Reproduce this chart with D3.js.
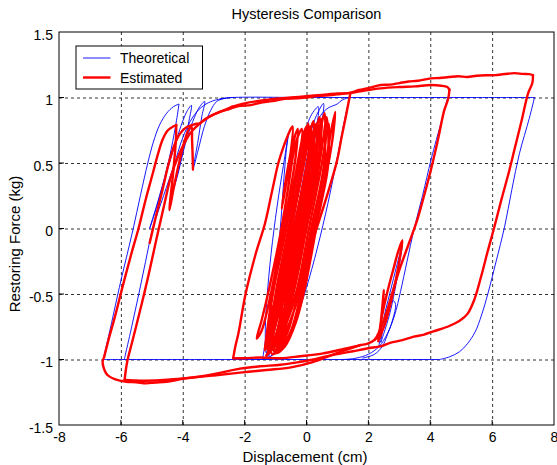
<!DOCTYPE html>
<html>
<head>
<meta charset="utf-8">
<script src="https://cdn.jsdelivr.net/npm/d3@7"></script>
<style>
  body { margin: 0; background: #fff; }
  text { font-family: Arial, "Liberation Sans", sans-serif; fill: #000; }
</style>
</head>
<body>
<div id="chart"></div>
<script>
// tick values
const xTicks = [-8, -6, -4, -2, 0, 2, 4, 6, 8];
const yTicks = [-1.5, -1, -0.5, 0, 0.5, 1, 1.5];

// ---- Theoretical (blue) branches, [displacement cm, force kg] ----
const thTop = [[-2.8, 0.99], [-2.4, 1], [0, 1], [3, 1], [5, 1], [7.37, 1]];
const thBottom = [[4.3, -1], [2, -1], [0, -1], [-3, -1], [-6.57, -1]];
const thOuterRight = [[7.37, 1], [7.2, 0.84], [6.88, 0.57], [6.64, 0.3], [6.4, 0.01], [6.13, -0.25],
  [5.86, -0.5], [5.66, -0.66], [5.45, -0.79], [5.2, -0.88], [4.95, -0.94], [4.62, -0.98], [4.3, -1]];
const thOuterLeft = [[-6.57, -1], [-6.3, -0.72], [-6.05, -0.45], [-5.82, -0.22], [-5.6, 0], [-5.37, 0.25],
  [-5.13, 0.5], [-4.95, 0.66], [-4.75, 0.79], [-4.52, 0.88], [-4.3, 0.93], [-4.12, 0.95]];
const thLeftLoops = [[-4.12, 0.95], [-4.22, 0.8], [-4.45, 0.52], [-4.75, 0.25], [-5.07, 0.0], [-4.9, 0.12],
  [-4.68, 0.3], [-4.43, 0.5], [-4.2, 0.68], [-4.0, 0.82], [-3.85, 0.9], [-3.72, 0.94], [-3.8, 0.82],
  [-3.95, 0.64], [-4.15, 0.42], [-4.3, 0.3], [-4.1, 0.48], [-3.85, 0.7], [-3.62, 0.85], [-3.45, 0.93],
  [-3.29, 0.97], [-3.38, 0.86], [-3.52, 0.65], [-3.67, 0.45], [-3.5, 0.6], [-3.3, 0.78], [-3.1, 0.9],
  [-2.9, 0.97], [-2.6, 0.995], [-2.3, 1]];
const thLeftInner = [[-5.89, -1], [-5.65, -0.75], [-5.42, -0.5], [-5.2, -0.25], [-4.97, 0], [-4.62, 0.25],
  [-4.26, 0.5], [-4.05, 0.66], [-3.82, 0.79], [-3.55, 0.89], [-3.25, 0.95], [-2.95, 0.98], [-2.6, 0.995]];
const thMidLoops = [[-1.42, -1], [-1.3, -0.82], [-1.12, -0.55], [-0.95, -0.25], [-0.83, 0.05], [-0.74, 0.35],
  [-0.66, 0.58], [-0.58, 0.73], [-0.7, 0.55], [-0.9, 0.25], [-1.1, -0.1], [-1.25, -0.45], [-1.33, -0.75],
  [-1.3, -0.95], [-1.15, -0.8], [-0.95, -0.5], [-0.7, -0.15], [-0.45, 0.2], [-0.25, 0.5], [-0.05, 0.72],
  [0.1, 0.84], [0.25, 0.9], [0.38, 0.93], [0.28, 0.7], [0.05, 0.35], [-0.25, -0.05], [-0.55, -0.45],
  [-0.85, -0.75], [-1.1, -0.92], [-1.29, -0.98], [-1.05, -0.75], [-0.8, -0.45], [-0.5, -0.05], [-0.2, 0.35],
  [0.05, 0.65], [0.25, 0.82], [0.4, 0.9], [0.55, 0.955], [0.42, 0.7], [0.15, 0.3], [-0.2, -0.15],
  [-0.5, -0.5], [-0.8, -0.8], [-1.0, -0.93], [-1.2, -0.98], [-0.95, -0.7], [-0.65, -0.35], [-0.35, 0.05],
  [-0.05, 0.45], [0.2, 0.72], [0.45, 0.86], [0.7, 0.92], [0.99, 0.95], [1.15, 0.98], [1.36, 1]];
const thMidRight = [[1.4, 1], [1.25, 0.85], [1.0, 0.55], [0.7, 0.2], [0.35, -0.15], [0.0, -0.45],
  [-0.35, -0.7], [-0.7, -0.87], [-1.0, -0.95], [-1.3, -0.99], [-1.6, -1]];
const thRightInner = [[4.56, 1], [4.4, 0.85], [4.2, 0.68], [4.02, 0.52], [3.75, 0.25], [3.47, -0.01],
  [3.25, -0.25], [3.04, -0.48], [2.85, -0.66], [2.62, -0.8], [2.35, -0.9], [2.0, -0.96], [1.6, -0.99], [1.2, -1]];
const thRightSmall = [[2.34, -0.9], [2.42, -0.78], [2.55, -0.63], [2.72, -0.47], [2.9, -0.3], [3.02, -0.19],
  [3.1, -0.12], [3.0, -0.28], [2.85, -0.48], [2.68, -0.66], [2.5, -0.8], [2.4, -0.87], [2.48, -0.76],
  [2.62, -0.64], [2.8, -0.55], [2.88, -0.58], [2.78, -0.7], [2.6, -0.82], [2.45, -0.9], [2.2, -0.96], [1.8, -0.99]];

// ---- Estimated (red) branches ----
const estTopOuter = [[-3.45, 0.8], [-3.2, 0.845], [-3.0, 0.87], [-2.8, 0.89], [-2.5, 0.912], [-2.2, 0.935],
  [-1.8, 0.942], [-1.5, 0.96], [-1.1, 0.972], [-0.7, 0.99], [-0.3, 0.993], [0, 1.0], [0.4, 1.012], [0.8, 1.018],
  [1.1, 1.027], [1.4, 1.035], [1.7, 1.057], [2.0, 1.072], [2.4, 1.095], [2.7, 1.098], [3.0, 1.11], [3.3, 1.122],
  [3.6, 1.128], [4.02, 1.146], [4.3, 1.149], [4.6, 1.156], [4.9, 1.162], [5.2, 1.157], [5.5, 1.166],
  [5.8, 1.17], [6.1, 1.171], [6.4, 1.179], [6.72, 1.186], [7.0, 1.18], [7.2, 1.178], [7.32, 1.17]];
const estOuterRight = [[7.32, 1.17], [7.3, 1.11], [7.16, 1.03], [6.95, 0.82], [6.75, 0.63], [6.56, 0.447],
  [6.3, 0.22], [6.07, 0.01], [5.85, -0.18], [5.64, -0.37], [5.42, -0.546], [5.21, -0.65], [4.95, -0.705],
  [4.56, -0.75], [4.1, -0.785], [3.8, -0.81], [3.47, -0.826], [3.1, -0.852], [2.7, -0.873], [2.39, -0.9],
  [2.0, -0.914], [1.5, -0.937], [1.09, -0.955], [0.6, -0.978], [0.23, -1.0], [-0.3, -1.022], [-0.85, -1.04],
  [-1.5, -1.052], [-2.15, -1.07], [-2.8, -1.102], [-3.44, -1.13], [-4.0, -1.148], [-4.53, -1.17],
  [-4.9, -1.176], [-5.18, -1.182], [-5.5, -1.174], [-5.83, -1.17], [-6.2, -1.15], [-6.4, -1.125],
  [-6.48, -1.105], [-6.56, -1.06], [-6.59, -1.017], [-6.54, -0.98]];
const estOuterLeft = [[-6.54, -0.98], [-6.4, -0.85], [-6.2, -0.68], [-5.94, -0.44], [-5.67, -0.2],
  [-5.43, 0.0], [-5.2, 0.22], [-4.97, 0.42], [-4.8, 0.57], [-4.65, 0.68], [-4.48, 0.75], [-4.3, 0.78], [-4.21, 0.79]];
const estLeftZig = [[-4.21, 0.79], [-4.22, 0.68], [-4.3, 0.45], [-4.43, 0.14], [-4.3, 0.3], [-4.12, 0.5],
  [-3.95, 0.66], [-3.82, 0.75], [-3.72, 0.78], [-3.7, 0.68], [-3.68, 0.55], [-3.67, 0.45]];
const estLeftRise = [[-5.07, -0.11], [-4.88, 0.08], [-4.65, 0.3], [-4.45, 0.5], [-4.28, 0.63], [-4.1, 0.72],
  [-3.9, 0.77], [-3.7, 0.79], [-3.55, 0.8], [-3.45, 0.8]];
const estBottomInner = [[1.74, -0.89], [1.0, -0.95], [0.2, -1.02], [-0.5, -1.06], [-1.3, -1.08],
  [-2.15, -1.1], [-3.0, -1.122], [-3.8, -1.14], [-4.5, -1.155], [-5.2, -1.162], [-5.6, -1.16], [-5.88, -1.157]];
const estInnerLeft = [[-5.88, -1.157], [-5.84, -1.08], [-5.78, -1.0], [-5.65, -0.88], [-5.51, -0.75],
  [-5.3, -0.55], [-5.1, -0.35], [-4.85, -0.08], [-4.6, 0.18], [-4.38, 0.4], [-4.15, 0.55], [-3.95, 0.65],
  [-3.75, 0.73], [-3.55, 0.78], [-3.3, 0.83], [-3.0, 0.87], [-2.7, 0.9], [-2.4, 0.93]];
const estTopInner = [[-2.4, 0.93], [-2.0, 0.955], [-1.5, 0.975], [-1.0, 0.99], [-0.5, 1.0], [0, 1.01],
  [0.5, 1.02], [1.0, 1.03], [1.42, 1.035], [1.8, 1.05], [2.4, 1.07], [3.0, 1.08], [3.5, 1.085],
  [4.02, 1.095], [4.35, 1.09], [4.55, 1.08], [4.62, 1.06]];
const estRightInner = [[4.62, 1.06], [4.58, 0.99], [4.45, 0.9], [4.25, 0.68], [4.02, 0.447], [3.8, 0.25],
  [3.58, 0.065], [3.3, -0.12], [3.04, -0.29], [2.8, -0.47], [2.6, -0.63], [2.4, -0.76], [2.2, -0.85],
  [1.95, -0.88], [1.74, -0.89], [1.2, -0.92], [0.5, -0.955], [-0.2, -0.975], [-0.85, -0.99], [-1.5, -0.985],
  [-2.0, -0.99], [-2.37, -0.99]];
const estMidLeft = [[-2.37, -0.99], [-2.3, -0.9], [-2.2, -0.8], [-1.97, -0.5], [-1.65, -0.2], [-1.34, 0.04],
  [-1.1, 0.3], [-0.91, 0.5], [-0.75, 0.62], [-0.62, 0.7], [-0.53, 0.75]];
const estMidRight = [[1.42, 1.035], [1.35, 0.95], [1.25, 0.83], [1.12, 0.68], [0.99, 0.52], [0.7, 0.28],
  [0.34, 0.01], [0.0, -0.24], [-0.31, -0.495], [-0.7, -0.75], [-1.0, -0.88], [-1.18, -0.94], [-1.3, -0.97]];
const estMidBand = [[-0.53, 0.75], [-0.45, 0.78], [-0.5, 0.6], [-0.65, 0.4], [-0.8, 0.15], [-0.65, 0.35],
  [-0.5, 0.55], [-0.38, 0.7], [-0.28, 0.76], [-0.35, 0.55], [-0.55, 0.25], [-0.9, -0.2], [-1.2, -0.55],
  [-1.45, -0.78], [-1.61, -0.84], [-1.45, -0.7], [-1.2, -0.45], [-0.85, -0.05], [-0.6, 0.3], [-0.4, 0.6],
  [-0.25, 0.72], [-0.15, 0.76], [-0.25, 0.5], [-0.65, 0], [-1.05, -0.45], [-1.25, -0.75], [-1.35, -0.93],
  [-1.1, -0.5], [-0.65, 0], [-0.22, 0.5], [-0.05, 0.7], [0.05, 0.8], [0.07, 0.5], [-0.35, 0], [-0.78, -0.5],
  [-0.98, -0.72], [-1.15, -0.85], [-1.3, -0.92], [-1.2, -0.75], [-0.93, -0.5], [-0.5, 0], [-0.08, 0.5],
  [0.1, 0.72], [0.22, 0.82], [0.22, 0.5], [-0.2, 0], [-0.62, -0.5], [-0.85, -0.75], [-1.0, -0.86],
  [-1.18, -0.93], [-1.05, -0.75], [-0.73, -0.5], [-0.3, 0], [0.12, 0.5], [0.3, 0.74], [0.42, 0.85],
  [0.42, 0.5], [0.0, 0], [-0.43, -0.5], [-0.68, -0.75], [-0.88, -0.88], [-1.05, -0.94], [-0.9, -0.75],
  [-0.58, -0.5], [-0.15, 0], [0.27, 0.5], [0.45, 0.75], [0.58, 0.88], [0.57, 0.5], [0.15, 0], [-0.28, -0.5],
  [-0.55, -0.75], [-0.78, -0.88], [-0.98, -0.94], [-0.8, -0.75], [-0.43, -0.5], [0.0, 0], [0.42, 0.5],
  [0.55, 0.7], [0.65, 0.85], [0.72, 0.55], [0.65, 0.4], [0.3, 0], [-0.13, -0.5], [-0.42, -0.75],
  [-0.7, -0.88], [-0.92, -0.94], [-0.6, -0.75], [-0.225, -0.5], [0.2, 0], [0.62, 0.5], [0.8, 0.75],
  [0.93, 0.89], [0.85, 0.7], [0.75, 0.55], [0.35, 0.05], [-0.05, -0.45], [-0.35, -0.72], [-0.7, -0.9],
  [-1.0, -0.95], [-1.1, -0.75], [-0.83, -0.5], [-0.4, 0], [0.02, 0.5], [0.2, 0.72], [0.32, 0.8],
  [0.32, 0.55], [-0.1, 0], [-0.52, -0.5], [-0.78, -0.75], [-0.95, -0.85], [-1.2, -0.94], [-1.15, -0.7],
  [-1.12, -0.5], [-0.7, 0], [-0.4, 0.35], [-0.25, 0.55], [-0.1, 0.72], [0.0, 0.78], [-0.12, 0.5],
  [-0.55, 0], [-0.98, -0.5], [-1.2, -0.75], [-1.29, -0.9]];
const estMidBand2 = [[-1.25, -0.95], [-1.1, -0.7], [-1.0, -0.5], [-0.58, 0], [-0.16, 0.5], [0.0, 0.7],
  [0.12, 0.78], [0.03, 0.5], [-0.42, 0], [-0.85, -0.5], [-1.08, -0.75], [-1.22, -0.9], [-1.0, -0.72],
  [-0.65, -0.5], [-0.22, 0], [0.2, 0.5], [0.38, 0.72], [0.5, 0.84], [0.37, 0.5], [-0.05, 0], [-0.48, -0.5],
  [-0.72, -0.75], [-0.95, -0.9], [-0.72, -0.72], [-0.35, -0.5], [0.08, 0], [0.5, 0.5], [0.62, 0.68],
  [0.72, 0.8], [0.67, 0.5], [0.25, 0], [-0.18, -0.5], [-0.5, -0.78], [-0.85, -0.92], [-1.1, -0.96],
  [-1.18, -0.82], [-0.92, -0.5], [-0.5, 0], [-0.08, 0.5], [0.05, 0.68], [0.15, 0.76], [0.15, 0.5],
  [-0.28, 0], [-0.7, -0.5], [-0.95, -0.78], [-1.15, -0.92], [-1.05, -0.78], [-0.78, -0.5], [-0.36, 0],
  [0.06, 0.5], [0.24, 0.72], [0.36, 0.8], [0.3, 0.5], [-0.12, 0], [-0.55, -0.5], [-0.8, -0.75],
  [-1.02, -0.9], [-1.28, -0.96]];
const estRightSmall = [[2.2, -0.85], [2.3, -0.83], [2.34, -0.81], [2.4, -0.72], [2.5, -0.6], [2.65, -0.45],
  [2.82, -0.3], [2.97, -0.17], [3.1, -0.09], [3.02, -0.22], [2.88, -0.4], [2.72, -0.57], [2.55, -0.72],
  [2.42, -0.8], [2.36, -0.84], [2.4, -0.72], [2.45, -0.6], [2.5, -0.47], [2.46, -0.6], [2.4, -0.75], [2.32, -0.86]];

const theoretical = [thTop, thBottom, thOuterRight, thOuterLeft, thLeftLoops, thLeftInner,
  thMidLoops, thMidRight, thRightInner, thRightSmall];
const estimated = [estTopOuter, estOuterRight, estOuterLeft, estLeftZig, estLeftRise, estBottomInner,
  estInnerLeft, estTopInner, estRightInner, estMidLeft, estMidRight, estMidBand, estMidBand2, estRightSmall];

const width = 557;
const height = 465;

const x = d3.scaleLinear().domain([-8, 8]).range([59, 554]);
const y = d3.scaleLinear().domain([-1.5, 1.5]).range([425, 32]);

const svg = d3
  .select('#chart')
  .append('svg')
  .attr('width', width)
  .attr('height', height);

svg.append('rect').attr('width', width).attr('height', height).attr('fill', '#fff');

// grid
const gridX = svg
  .append('g')
  .attr('transform', `translate(0,${y.range()[0]})`)
  .call(d3.axisBottom(x).tickValues(xTicks.slice(1, -1)).tickSize(-(y.range()[0] - y.range()[1])).tickFormat(''));
const gridY = svg
  .append('g')
  .attr('transform', `translate(${x.range()[0]},0)`)
  .call(d3.axisLeft(y).tickValues(yTicks.slice(1, -1)).tickSize(-(x.range()[1] - x.range()[0])).tickFormat(''));
[gridX, gridY].forEach((g) => {
  g.select('.domain').remove();
  g.selectAll('line').attr('stroke', '#000').attr('stroke-width', 0.8).attr('stroke-dasharray', '3,3');
});

// clip
svg.append('clipPath').attr('id', 'plot-clip')
  .append('rect')
  .attr('x', x.range()[0]).attr('y', y.range()[1])
  .attr('width', x.range()[1] - x.range()[0]).attr('height', y.range()[0] - y.range()[1]);

const line = d3
  .line()
  .x((d) => x(d[0]))
  .y((d) => y(d[1]))
  .curve(d3.curveCatmullRom.alpha(0.5));

const plot = svg.append('g').attr('clip-path', 'url(#plot-clip)');

plot.selectAll('path.th')
  .data(theoretical)
  .join('path')
  .attr('class', 'th')
  .attr('d', line)
  .attr('fill', 'none')
  .attr('stroke', '#0000ff')
  .attr('stroke-width', 0.9)
  .attr('stroke-linejoin', 'round');

plot.selectAll('path.est')
  .data(estimated)
  .join('path')
  .attr('class', 'est')
  .attr('d', line)
  .attr('fill', 'none')
  .attr('stroke', '#ff0000')
  .attr('stroke-width', 2.4)
  .attr('stroke-linejoin', 'round')
  .attr('stroke-linecap', 'round');

// frame
svg.append('rect')
  .attr('x', x.range()[0]).attr('y', y.range()[1])
  .attr('width', x.range()[1] - x.range()[0]).attr('height', y.range()[0] - y.range()[1])
  .attr('fill', 'none').attr('stroke', '#000').attr('stroke-width', 1);

// tick labels
const fmt = (d) => String(d);
const xAxis = svg.append('g')
  .attr('transform', `translate(0,${y.range()[0]})`)
  .call(d3.axisBottom(x).tickValues(xTicks).tickSize(0).tickPadding(7).tickFormat(fmt));
const yAxis = svg.append('g')
  .attr('transform', `translate(${x.range()[0]},0)`)
  .call(d3.axisLeft(y).tickValues(yTicks).tickSize(0).tickPadding(6).tickFormat(fmt));
[xAxis, yAxis].forEach((g) => {
  g.select('.domain').remove();
  g.selectAll('text').attr('font-size', 14).attr('font-family', null).attr('fill', '#000');
});
yAxis.selectAll('text').attr('dy', '0.5em');

// small inner tick marks
const tickLen = 5;
svg.append('g').selectAll('line.tx')
  .data(xTicks.slice(1, -1))
  .join('line')
  .attr('x1', (d) => x(d)).attr('x2', (d) => x(d))
  .attr('y1', y.range()[0]).attr('y2', y.range()[0] - tickLen)
  .attr('stroke', '#000');
svg.append('g').selectAll('line.ty')
  .data(yTicks.slice(1, -1))
  .join('line')
  .attr('x1', x.range()[0]).attr('x2', x.range()[0] + tickLen)
  .attr('y1', (d) => y(d)).attr('y2', (d) => y(d))
  .attr('stroke', '#000');

// titles
svg.append('text')
  .attr('x', 306.5).attr('y', 18.5)
  .attr('text-anchor', 'middle')
  .attr('font-size', 14.5)
  .text('Hysteresis Comparison');

svg.append('text')
  .attr('x', 305).attr('y', 462)
  .attr('text-anchor', 'middle')
  .attr('font-size', 15)
  .text('Displacement (cm)');

svg.append('text')
  .attr('transform', 'translate(20,244) rotate(-90)')
  .attr('text-anchor', 'middle')
  .attr('font-size', 15)
  .text('Restoring Force (kg)');

// legend
const legend = svg.append('g');
legend.append('rect')
  .attr('x', 76).attr('y', 46).attr('width', 126.5).attr('height', 43)
  .attr('fill', '#fff').attr('stroke', '#000').attr('stroke-width', 1);
const legendItems = [
  { label: 'Theoretical', color: '#0000ff', w: 0.9, y: 58 },
  { label: 'Estimated', color: '#ff0000', w: 2.4, y: 77.5 },
];
legendItems.forEach((d) => {
  legend.append('line')
    .attr('x1', 83).attr('x2', 110.5).attr('y1', d.y).attr('y2', d.y)
    .attr('stroke', d.color).attr('stroke-width', d.w);
  legend.append('text')
    .attr('x', 120).attr('y', d.y + 5)
    .attr('font-size', 14)
    .text(d.label);
});
</script>
</body>
</html>
